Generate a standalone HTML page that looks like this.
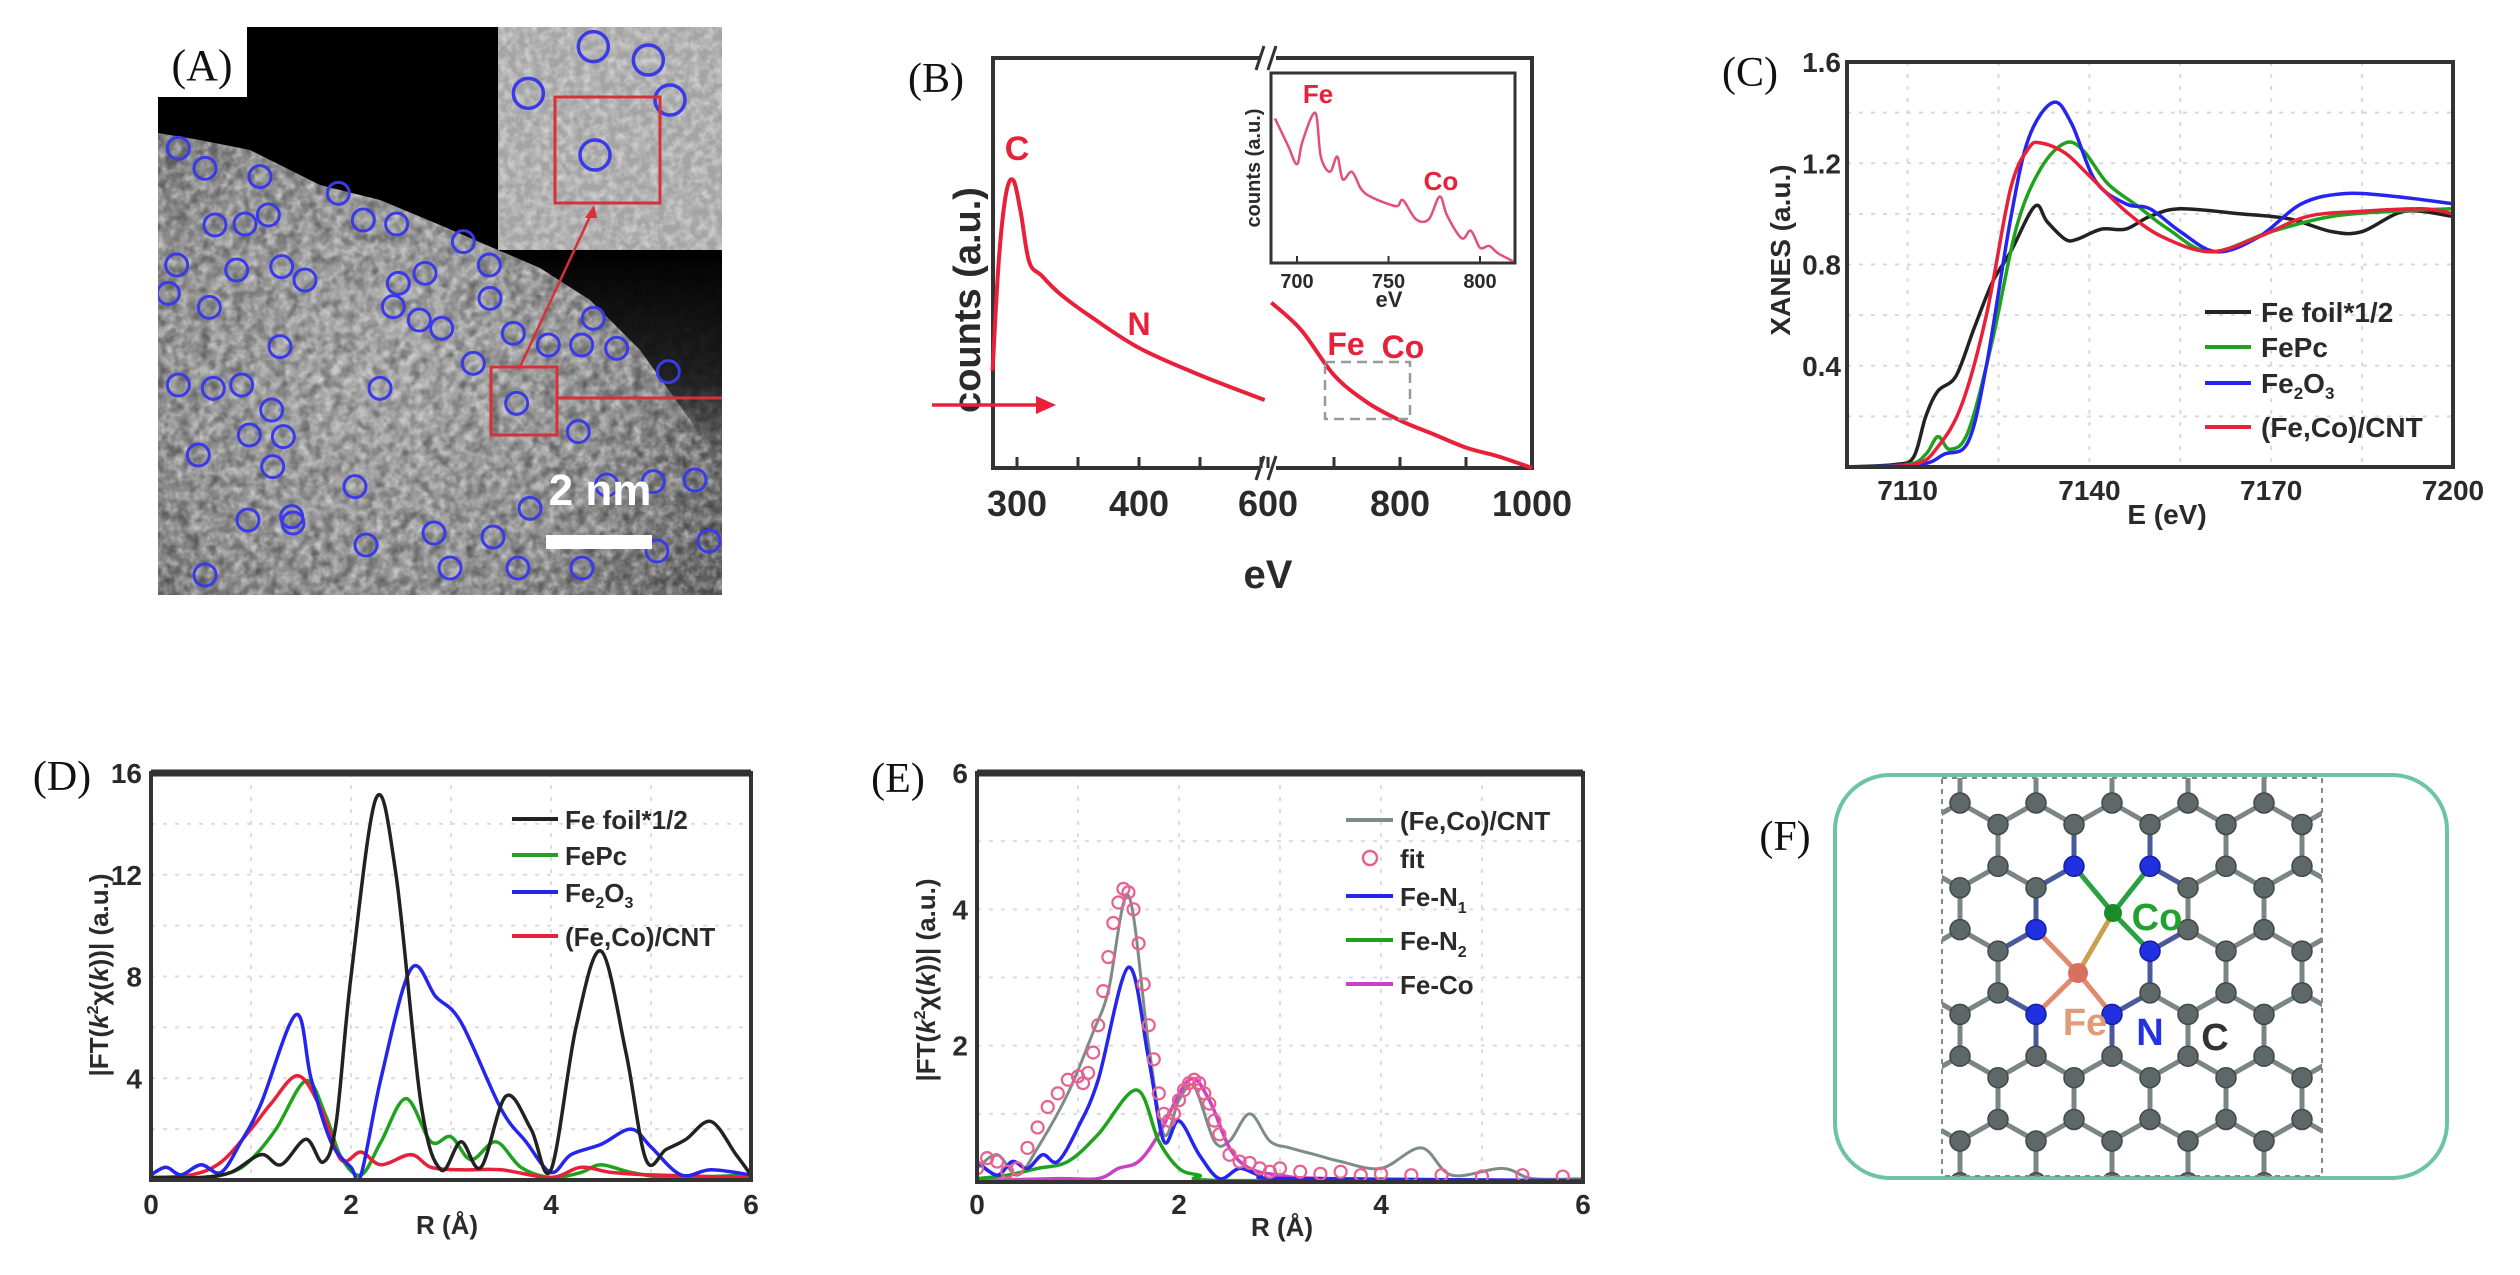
<!DOCTYPE html>
<html><head><meta charset="utf-8"><style>
html,body{margin:0;padding:0;background:#fff;}
svg{display:block;font-family:"Liberation Sans",sans-serif;}
.tk{font-weight:bold;fill:#2a2a2a;}
.pl{font-family:"Liberation Serif",serif;fill:#111;}
</style></head><body>
<svg id="fig" width="2520" height="1275" viewBox="0 0 2520 1275" xmlns="http://www.w3.org/2000/svg">
<defs>
<filter id="noise" x="0" y="0" width="100%" height="100%">
<feTurbulence type="fractalNoise" baseFrequency="0.12" numOctaves="3" seed="4"/>
<feColorMatrix type="matrix" values="0 0 0 0 1  0 0 0 0 1  0 0 0 0 1  1.6 0 0 0 -0.55"/>
</filter>
<filter id="noise2" x="0" y="0" width="100%" height="100%">
<feTurbulence type="fractalNoise" baseFrequency="0.09" numOctaves="2" seed="9"/>
<feColorMatrix type="matrix" values="0 0 0 0 0  0 0 0 0 0  0 0 0 0 0  1.4 0 0 0 -0.55"/>
</filter>
<radialGradient id="tembg" cx="0.4" cy="0.6" r="0.7">
<stop offset="0" stop-color="#ababab"/><stop offset="0.6" stop-color="#8e8e8e"/><stop offset="1" stop-color="#5a5a5a"/>
</radialGradient>
<linearGradient id="darkfade" x1="0" y1="0" x2="0" y2="1">
<stop offset="0" stop-color="#000" stop-opacity="1"/><stop offset="0.6" stop-color="#111" stop-opacity="0.85"/><stop offset="1" stop-color="#333" stop-opacity="0"/>
</linearGradient>
<clipPath id="clipA"><rect x="158" y="27" width="564" height="568"/></clipPath>
<clipPath id="clipC"><rect x="1847" y="62" width="606" height="405"/></clipPath>
<clipPath id="clipD"><rect x="151" y="773" width="600" height="407"/></clipPath>
<clipPath id="clipE"><rect x="977" y="773" width="606" height="409"/></clipPath>
<clipPath id="clipF"><rect x="1942" y="778" width="380" height="398"/></clipPath>
</defs>

<!-- ===== Panel A ===== -->
<g id="panelA" clip-path="url(#clipA)">
<rect x="158" y="27" width="564" height="568" fill="url(#tembg)"/>
<rect x="158" y="27" width="564" height="568" filter="url(#noise)" opacity="0.6"/>
<rect x="158" y="27" width="564" height="568" filter="url(#noise2)" opacity="0.6"/>
<polygon points="158,27 498,27 498,250 440,225 380,200 320,185 250,150 200,140 158,133" fill="#000"/>
<polygon points="498,250 722,250 722,470 690,420 640,350 590,300 540,268" fill="url(#darkfade)"/>
<rect x="498" y="27" width="224" height="223" fill="#a4a4a4"/>
<rect x="498" y="27" width="224" height="223" filter="url(#noise)" opacity="0.6"/>
<g id="temCircles"></g>
<rect x="491" y="367" width="66" height="68" fill="none" stroke="#d8303a" stroke-width="3"/>
<rect x="555" y="97" width="105" height="106" fill="none" stroke="#d8303a" stroke-width="3"/>
<line x1="557" y1="398" x2="722" y2="398" stroke="#d8303a" stroke-width="3"/>
<line x1="520" y1="367" x2="592" y2="212" stroke="#d8303a" stroke-width="2.5"/>
<polygon points="594,205 585,218 597,218" fill="#d8303a"/>
<rect x="546" y="535" width="106" height="14" fill="#fff"/>
<text x="600" y="505" font-size="44" font-weight="bold" fill="#fff" text-anchor="middle">2 nm</text>
<rect x="158" y="27" width="89" height="70" fill="#fff"/>
<text class="pl" x="202" y="80" font-size="44" text-anchor="middle">(A)</text>
</g>

<!-- ===== Panel B ===== -->
<g id="panelB">
<text class="pl" x="936" y="92" font-size="42" text-anchor="middle">(B)</text>
<rect x="993" y="58" width="539" height="410" fill="none" stroke="#333" stroke-width="4"/>
<rect x="1260" y="50" width="16" height="16" fill="#fff"/>
<rect x="1260" y="460" width="16" height="16" fill="#fff"/>
<path d="M1256,70 L1264,46 M1268,70 L1276,46 M1256,480 L1264,456 M1268,480 L1276,456" stroke="#333" stroke-width="3"/>
<g id="bTicks"></g>
<text class="tk" x="1268" y="588" font-size="40" text-anchor="middle">eV</text>
<text class="tk" transform="translate(980,300) rotate(-90)" font-size="38" text-anchor="middle">counts (a.u.)</text>
<g id="bCurve"></g>
<text x="1017" y="160" font-size="34" font-weight="bold" fill="#e8203a" text-anchor="middle">C</text>
<text x="1139" y="335" font-size="32" font-weight="bold" fill="#e8203a" text-anchor="middle">N</text>
<text x="1346" y="355" font-size="32" font-weight="bold" fill="#e8203a" text-anchor="middle">Fe</text>
<text x="1403" y="358" font-size="32" font-weight="bold" fill="#e8203a" text-anchor="middle">Co</text>
<rect x="1325" y="362" width="85" height="57" fill="none" stroke="#999" stroke-width="2.5" stroke-dasharray="10,6"/>
<line x1="932" y1="405" x2="1040" y2="405" stroke="#e8203a" stroke-width="3.5"/>
<polygon points="1056,405 1036,396 1036,414" fill="#e8203a"/>
<rect x="1271" y="73" width="244" height="190" fill="#fff" stroke="#333" stroke-width="3"/>
<g id="bInset"></g>
<text class="tk" x="1389" y="307" font-size="22" text-anchor="middle">eV</text>
<text class="tk" transform="translate(1260,168) rotate(-90)" font-size="20" text-anchor="middle">counts (a.u.)</text>
<text x="1318" y="103" font-size="26" font-weight="bold" fill="#e8203a" text-anchor="middle">Fe</text>
<text x="1441" y="190" font-size="26" font-weight="bold" fill="#e8203a" text-anchor="middle">Co</text>
</g>

<!-- ===== Panel C ===== -->
<g id="panelC">
<text class="pl" x="1750" y="86" font-size="42" text-anchor="middle">(C)</text>
<g id="cGrid"></g>
<g id="cCurves" clip-path="url(#clipC)"></g>
<rect x="1847" y="62" width="606" height="405" fill="none" stroke="#333" stroke-width="4"/>
<g id="cTicks"></g>
<text class="tk" transform="translate(1790,250) rotate(-90)" font-size="28" text-anchor="middle">XANES (a.u.)</text>
<text class="tk" x="2167" y="524" font-size="28" text-anchor="middle">E (eV)</text>
<g id="cLegend"></g>
</g>

<!-- ===== Panel D ===== -->
<g id="panelD">
<text class="pl" x="62" y="790" font-size="42" text-anchor="middle">(D)</text>
<g id="dGrid"></g>
<g id="dCurves" clip-path="url(#clipD)"></g>
<rect x="151" y="773" width="600" height="407" fill="none" stroke="#333" stroke-width="4"/>
<line x1="151" y1="773" x2="751" y2="773" stroke="#333" stroke-width="7"/>
<g id="dTicks"></g>
<text class="tk" transform="translate(108,975) rotate(-90)" font-size="26" text-anchor="middle">|FT(<tspan font-style="italic">k</tspan><tspan font-size="16" dy="-10">2</tspan><tspan dy="10">χ(</tspan><tspan font-style="italic">k</tspan>))| (a.u.)</text>
<text class="tk" x="447" y="1234" font-size="26" text-anchor="middle">R (Å)</text>
<g id="dLegend"></g>
</g>

<!-- ===== Panel E ===== -->
<g id="panelE">
<text class="pl" x="898" y="792" font-size="42" text-anchor="middle">(E)</text>
<g id="eGrid"></g>
<g id="eCurves" clip-path="url(#clipE)"></g>
<rect x="977" y="773" width="606" height="409" fill="none" stroke="#333" stroke-width="4"/>
<line x1="977" y1="773" x2="1583" y2="773" stroke="#333" stroke-width="7"/>
<g id="eTicks"></g>
<text class="tk" transform="translate(935,980) rotate(-90)" font-size="26" text-anchor="middle">|FT(<tspan font-style="italic">k</tspan><tspan font-size="16" dy="-10">2</tspan><tspan dy="10">χ(</tspan><tspan font-style="italic">k</tspan>))| (a.u.)</text>
<text class="tk" x="1282" y="1236" font-size="26" text-anchor="middle">R (Å)</text>
<g id="eLegend"></g>
</g>

<!-- ===== Panel F ===== -->
<g id="panelF">
<text class="pl" x="1785" y="850" font-size="42" text-anchor="middle">(F)</text>
<rect x="1835" y="775" width="612" height="403" rx="55" fill="none" stroke="#6cc3a8" stroke-width="4"/>
<g id="lattice" clip-path="url(#clipF)"></g>
<rect x="1942" y="778" width="380" height="398" fill="none" stroke="#888" stroke-width="2" stroke-dasharray="5,5"/>
<text x="2157" y="930" font-size="38" font-weight="bold" fill="#22a030" text-anchor="middle">Co</text>
<text x="2085" y="1035" font-size="38" font-weight="bold" fill="#e39a78" text-anchor="middle">Fe</text>
<text x="2150" y="1045" font-size="38" font-weight="bold" fill="#2233dd" text-anchor="middle">N</text>
<text x="2215" y="1050" font-size="38" font-weight="bold" fill="#333" text-anchor="middle">C</text>
</g>
</svg>

<script>
// ---------- data: panel B (EELS) ----------
var bLeftE = [280, 285, 291, 297, 303, 310, 320, 335, 360, 400, 450, 503];
var bLeftI = [0.31, 0.55, 0.70, 0.73, 0.66, 0.55, 0.52, 0.48, 0.43, 0.36, 0.30, 0.245];
var bRightE = [605, 650, 700, 750, 800, 850, 900, 950, 1000];
var bRightI = [0.46, 0.40, 0.30, 0.24, 0.20, 0.17, 0.14, 0.12, 0.095];
var bLeftTicks = [300, 350, 400, 450, 500];
var bLeftTickLabels = ["300", "", "400", "", ""];
var bRightTicks = [600, 700, 800, 900, 1000];
var bRightTickLabels = ["600", "", "800", "", "1000"];
var bInsetE = [688, 695, 700, 703, 710, 713, 718, 722, 725, 730, 735, 740, 750, 755, 758, 765, 772, 778, 782, 790, 795, 800, 805, 810, 818];
var bInsetI = [0.76, 0.62, 0.52, 0.64, 0.79, 0.56, 0.48, 0.56, 0.44, 0.48, 0.39, 0.35, 0.31, 0.30, 0.33, 0.23, 0.23, 0.35, 0.25, 0.13, 0.17, 0.08, 0.09, 0.05, 0.01];
var bInsetTicks = [700, 750, 800];
// ---------- data: panel C (XANES) ----------
var cTicksX = [7110, 7140, 7170, 7200];
var cTicksY = [0.4, 0.8, 1.2, 1.6];
var cFoilE = [7100, 7108, 7111, 7113, 7115, 7118, 7121, 7124, 7127, 7131, 7133, 7136, 7138, 7142, 7146, 7150, 7155, 7165, 7173, 7180, 7185, 7192, 7200];
var cFoilY = [0, 0.01, 0.04, 0.2, 0.3, 0.36, 0.55, 0.73, 0.85, 1.03, 0.97, 0.90, 0.90, 0.94, 0.94, 0.99, 1.02, 1.00, 0.98, 0.93, 0.93, 1.01, 0.99];
var cFePcE = [7100, 7110, 7113, 7115, 7117, 7120, 7124, 7128, 7132, 7136, 7139, 7143, 7148, 7153, 7160, 7170, 7180, 7190, 7200];
var cFePcY = [0, 0.01, 0.05, 0.12, 0.07, 0.14, 0.5, 0.95, 1.18, 1.28, 1.25, 1.12, 1.03, 0.94, 0.85, 0.93, 0.99, 1.01, 1.02];
var cFe2O3E = [7100, 7112, 7116, 7120, 7123, 7127, 7130, 7134, 7137, 7141, 7146, 7150, 7155, 7161, 7168, 7175, 7182, 7190, 7200];
var cFe2O3Y = [0, 0.01, 0.05, 0.1, 0.4, 0.98, 1.3, 1.44, 1.36, 1.13, 1.04, 1.02, 0.93, 0.85, 0.91, 1.04, 1.08, 1.07, 1.04];
var cCntE = [7100, 7111, 7115, 7119, 7123, 7127, 7130, 7132, 7136, 7140, 7146, 7152, 7160, 7168, 7176, 7185, 7195, 7200];
var cCntY = [0, 0.01, 0.08, 0.25, 0.6, 1.1, 1.26, 1.28, 1.24, 1.15, 1.01, 0.91, 0.85, 0.91, 0.99, 1.01, 1.02, 1.00];
// ---------- data: panel D ----------
var dTicksX = [0, 2, 4, 6];
var dTicksY = [4, 8, 12, 16];
var dFoilR = [0, 0.5, 0.8, 1.1, 1.3, 1.55, 1.72, 1.85, 2.0, 2.25, 2.45, 2.7, 2.9, 3.1, 3.3, 3.55, 3.8, 4.0, 4.25, 4.5, 4.75, 4.95, 5.15, 5.35, 5.6, 5.85, 6.0];
var dFoilY = [0.1, 0.1, 0.3, 1.0, 0.6, 1.6, 0.7, 2.2, 8, 15, 12, 3, 0.4, 1.5, 0.5, 3.3, 2.0, 0.4, 6, 9, 5, 0.8, 1.2, 1.6, 2.3, 1.0, 0.2];
var dFePcR = [0, 0.5, 0.8, 1.0, 1.25, 1.55, 1.75, 1.9, 2.1, 2.3, 2.55, 2.8, 3.0, 3.2, 3.45, 3.7, 4.0, 4.3, 4.5, 4.8, 5.2, 6.0];
var dFePcY = [0.1, 0.1, 0.3, 0.8, 2.0, 3.9, 2.5, 0.9, 0.2, 1.5, 3.2, 1.5, 1.7, 0.8, 1.5, 0.5, 0.1, 0.3, 0.6, 0.3, 0.1, 0.2];
var dFe2O3R = [0, 0.15, 0.3, 0.5, 0.7, 0.9, 1.1, 1.45, 1.6, 1.8, 2.0, 2.1, 2.3, 2.6, 2.85, 3.1, 3.5, 3.75, 4.0, 4.2, 4.5, 4.8, 5.0, 5.3, 5.6, 6.0];
var dFe2O3Y = [0.2, 0.5, 0.2, 0.6, 0.3, 1.5, 3.0, 6.5, 4.0, 1.5, 0.5, 0.2, 4.0, 8.3, 7.2, 6.2, 2.8, 1.5, 0.3, 1.0, 1.4, 2.0, 1.3, 0.2, 0.4, 0.2];
var dCntR = [0, 0.4, 0.7, 1.0, 1.2, 1.47, 1.7, 1.9, 2.1, 2.3, 2.6, 2.8, 3.1, 3.5, 4.0, 4.3, 4.6, 5.0, 6.0];
var dCntY = [0.1, 0.2, 0.7, 2.0, 3.0, 4.1, 2.8, 0.8, 1.1, 0.6, 1.0, 0.5, 0.4, 0.4, 0.1, 0.5, 0.3, 0.2, 0.1];
// ---------- data: panel E ----------
var eTicksX = [0, 2, 4, 6];
var eTicksY = [2, 4, 6];
var eCntR = [0, 0.2, 0.4, 0.6, 0.9, 1.15, 1.3, 1.5, 1.7, 1.85, 2.0, 2.15, 2.35, 2.5, 2.7, 2.9, 3.1, 3.35, 3.6, 4.0, 4.4, 4.7, 5.2, 5.5, 6.0];
var eCntY = [0.2, 0.4, 0.1, 0.5, 1.3, 2.2, 2.8, 4.2, 2.0, 0.7, 1.2, 1.4, 0.6, 0.6, 1.0, 0.6, 0.5, 0.4, 0.3, 0.2, 0.5, 0.1, 0.2, 0.05, 0.05];
var eFitR = [0, 0.1, 0.2, 0.3, 0.4, 0.5, 0.6, 0.7, 0.8, 0.9, 1.0, 1.05, 1.1, 1.15, 1.2, 1.25, 1.3, 1.35, 1.4, 1.45, 1.5, 1.55, 1.6, 1.65, 1.7, 1.75, 1.8, 1.85, 1.9, 1.95, 2.0, 2.05, 2.1, 2.15, 2.2, 2.25, 2.3, 2.35, 2.4, 2.5, 2.6, 2.7, 2.8, 2.9, 3.0, 3.2, 3.4, 3.6, 3.8, 4.0, 4.3, 4.6, 5.0, 5.4, 5.8];
var eFitY = [0.2, 0.35, 0.3, 0.15, 0.2, 0.5, 0.8, 1.1, 1.3, 1.5, 1.55, 1.45, 1.6, 1.9, 2.3, 2.8, 3.3, 3.8, 4.1, 4.3, 4.25, 4.0, 3.5, 2.9, 2.3, 1.8, 1.3, 1.0, 0.9, 1.0, 1.2, 1.35, 1.45, 1.5, 1.45, 1.3, 1.15, 0.9, 0.7, 0.4, 0.3, 0.28, 0.2, 0.15, 0.2, 0.15, 0.12, 0.15, 0.1, 0.12, 0.1, 0.1, 0.08, 0.1, 0.08];
var eN1R = [0, 0.2, 0.35, 0.5, 0.65, 0.8, 1.0, 1.2, 1.5, 1.7, 1.85, 2.0, 2.2, 2.4, 2.6, 2.8, 3.1, 6.0];
var eN1Y = [0.3, 0.1, 0.3, 0.2, 0.4, 0.3, 0.8, 1.5, 3.15, 1.8, 0.6, 0.9, 0.4, 0.05, 0.2, 0.1, 0.05, 0.02];
var eN2R = [0, 0.3, 0.6, 0.9, 1.2, 1.58, 1.8, 2.0, 2.2, 2.5, 6.0];
var eN2Y = [0.05, 0.1, 0.2, 0.3, 0.7, 1.35, 0.6, 0.2, 0.1, 0.02, 0.02];
var eCoR = [0, 0.8, 1.2, 1.4, 1.6, 1.8, 2.1, 2.3, 2.5, 2.7, 3.0, 3.5, 6.0];
var eCoY = [0.02, 0.05, 0.05, 0.2, 0.3, 0.7, 1.5, 1.2, 0.5, 0.2, 0.1, 0.05, 0.02];

var NS = 'http://www.w3.org/2000/svg';
function mk(tag, attrs, parent) {
  var e = document.createElementNS(NS, tag);
  for (var k in attrs) e.setAttribute(k, attrs[k]);
  parent.appendChild(e);
  return e;
}
function scale(d0, d1, r0, r1) { return function (v) { return r0 + (v - d0) * (r1 - r0) / (d1 - d0); }; }
function smoothPath(xs, ys) {
  var p = xs.map(function (x, i) { return [x, ys[i]]; });
  var d = 'M' + p[0][0].toFixed(1) + ',' + p[0][1].toFixed(1);
  for (var i = 0; i < p.length - 1; i++) {
    var p0 = p[i - 1] || p[i], p1 = p[i], p2 = p[i + 1], p3 = p[i + 2] || p2;
    var c1x = p1[0] + (p2[0] - p0[0]) / 6, c1y = p1[1] + (p2[1] - p0[1]) / 6;
    var c2x = p2[0] - (p3[0] - p1[0]) / 6, c2y = p2[1] - (p3[1] - p1[1]) / 6;
    d += ' C' + c1x.toFixed(1) + ',' + c1y.toFixed(1) + ' ' + c2x.toFixed(1) + ',' + c2y.toFixed(1) + ' ' + p2[0].toFixed(1) + ',' + p2[1].toFixed(1);
  }
  return d;
}
function curve(parent, xs, ys, sx, sy, color, w, name) {
  var e = mk('path', { d: smoothPath(xs.map(sx), ys.map(sy)), fill: 'none', stroke: color, 'stroke-width': w, 'stroke-linejoin': 'round' }, parent);
  
  
  return e;
}
function txt(parent, x, y, s, size, anchor, name) {
  var t = mk('text', { x: x, y: y, 'font-size': size, 'text-anchor': anchor, 'class': 'tk' }, parent);
  t.textContent = s;
  
  
  return t;
}

// ---------- Panel A circles ----------
(function () {
  var g = document.getElementById('temCircles');
  var z9 = [[85,385],[165,445],[330,470],[195,615],[285,612],[355,585],[565,520],[640,600],[740,612],[940,665],[80,735],[260,750],[395,740],[465,780],[55,820],[178,862],[745,790],[825,760],[730,860],[808,900],[875,925],[1018,735],[1020,835],[1090,940],[1330,895],[1195,975],[1295,975],[1400,985],[970,1030],[390,980],[85,1095],[190,1105],[275,1095],[690,1105],[365,1170],[298,1245],[400,1250],[145,1305],[368,1340],[615,1400],[1100,1150],[1285,1235],[1555,1055],[1510,1385],[1370,1395],[1140,1465],[425,1490]];
  var extra = [[293,523],[366,545],[434,533],[493,537],[450,568],[518,568],[582,568],[657,551],[709,541],[695,480],[248,520],[205,575]];
  var inset = [[1135,220],[1330,80],[1495,120],[1335,405],[1560,240]];
  z9.forEach(function (c) {
    var e = mk('circle', { cx: 150 + c[0] / 3, cy: 20 + c[1] / 3, r: 11, fill: 'none', stroke: '#3a3ae8', 'stroke-width': 3 }, g);
    
    
  });
  extra.forEach(function (c) {
    var e = mk('circle', { cx: c[0], cy: c[1], r: 11, fill: 'none', stroke: '#3a3ae8', 'stroke-width': 3 }, g);
    
    
  });
  inset.forEach(function (c) {
    var e = mk('circle', { cx: 150 + c[0] / 3, cy: 20 + c[1] / 3, r: 15, fill: 'none', stroke: '#3a3ae8', 'stroke-width': 3.5 }, g);
    
    
  });
})();

// ---------- Panel B ----------
(function () {
  var sxL = scale(300, 400, 1017, 1139);
  var sxR = scale(600, 1000, 1268, 1532);
  var sy = scale(0, 1, 511, 58);
  var g = document.getElementById('bCurve');
  curve(g, bLeftE, bLeftI, sxL, sy, '#e8203a', 4, 'eels-curve-low-energy');
  curve(g, bRightE, bRightI, sxR, sy, '#e8203a', 4, 'eels-curve-high-energy');
  var t = document.getElementById('bTicks');
  bLeftTicks.forEach(function (v, i) {
    var l = mk('line', { x1: sxL(v), x2: sxL(v), y1: 468, y2: 457, stroke: '#333', 'stroke-width': 3 }, t);
    
    
    if (bLeftTickLabels[i]) txt(t, sxL(v), 516, bLeftTickLabels[i], 36, 'middle', 'x-tick-label');
  });
  bRightTicks.forEach(function (v, i) {
    var l = mk('line', { x1: sxR(v), x2: sxR(v), y1: 468, y2: 457, stroke: '#333', 'stroke-width': 3 }, t);
    
    
    if (bRightTickLabels[i]) txt(t, sxR(v), 516, bRightTickLabels[i], 36, 'middle', 'x-tick-label');
  });
  var sxi = scale(700, 800, 1297, 1480);
  var syi = scale(0, 1, 263, 73);
  var gi = document.getElementById('bInset');
  curve(gi, bInsetE, bInsetI, sxi, syi, '#e2507a', 2.5, 'inset-curve');
  bInsetTicks.forEach(function (v) {
    var l = mk('line', { x1: sxi(v), x2: sxi(v), y1: 263, y2: 256, stroke: '#333', 'stroke-width': 2 }, gi);
    
    
    txt(gi, sxi(v), 288, String(v), 20, 'middle', 'inset-x-tick-label');
  });
})();

// ---------- Panel C ----------
(function () {
  var sx = scale(7100, 7200, 1847, 2453);
  var sy = scale(0, 1.6, 467, 62);
  var grid = document.getElementById('cGrid');
  [7110, 7125, 7140, 7155, 7170, 7185].forEach(function (v) {
    var l = mk('line', { x1: sx(v), x2: sx(v), y1: 62, y2: 467, stroke: '#d8d8d8', 'stroke-width': 2, 'stroke-dasharray': '4,8' }, grid);
    
    
  });
  [0.2, 0.4, 0.6, 0.8, 1.0, 1.2, 1.4].forEach(function (v) {
    var l = mk('line', { x1: 1847, x2: 2453, y1: sy(v), y2: sy(v), stroke: '#d8d8d8', 'stroke-width': 2, 'stroke-dasharray': '4,8' }, grid);
    
    
  });
  var g = document.getElementById('cCurves');
  curve(g, cFoilE, cFoilY, sx, sy, '#222', 3.5, 'series-fe-foil');
  curve(g, cFePcE, cFePcY, sx, sy, '#1fa31f', 3.5, 'series-fepc');
  curve(g, cFe2O3E, cFe2O3Y, sx, sy, '#2525ee', 3.5, 'series-fe2o3');
  curve(g, cCntE, cCntY, sx, sy, '#e8203a', 3.5, 'series-feco-cnt');
  var t = document.getElementById('cTicks');
  cTicksX.forEach(function (v) {
    txt(t, sx(v), 500, String(v), 28, 'middle', 'x-tick-label');
  });
  cTicksY.forEach(function (v) {
    txt(t, 1841, sy(v) + 10, v.toFixed(1), 28, 'end', 'y-tick-label');
  });
  var lg = document.getElementById('cLegend');
  var items = [['Fe foil*1/2', '#222'], ['FePc', '#1fa31f'], ['Fe2O3', '#2525ee'], ['(Fe,Co)/CNT', '#e8203a']];
  var ys = [312, 347, 383, 427];
  items.forEach(function (it, i) {
    var l = mk('line', { x1: 2205, x2: 2251, y1: ys[i], y2: ys[i], stroke: it[1], 'stroke-width': 4 }, lg);
    
    
    var tt = txt(lg, 2261, ys[i] + 10, '', 28, 'start', 'legend-label');
    if (it[0] === 'Fe2O3') {
      tt.innerHTML = 'Fe<tspan font-size="17" dy="6">2</tspan><tspan dy="-6">O</tspan><tspan font-size="17" dy="6">3</tspan>';
    } else tt.textContent = it[0];
  });
})();

// ---------- Panel D ----------
(function () {
  var sx = scale(0, 6, 151, 751);
  var sy = scale(0, 16, 1180, 773);
  var grid = document.getElementById('dGrid');
  [1, 2, 3, 4, 5].forEach(function (v) {
    var l = mk('line', { x1: sx(v), x2: sx(v), y1: 773, y2: 1180, stroke: '#dcdcdc', 'stroke-width': 2, 'stroke-dasharray': '4,8' }, grid);
    
    
  });
  [2, 4, 6, 8, 10, 12, 14].forEach(function (v) {
    var l = mk('line', { x1: 151, x2: 751, y1: sy(v), y2: sy(v), stroke: '#dcdcdc', 'stroke-width': 2, 'stroke-dasharray': '4,8' }, grid);
    
    
  });
  var g = document.getElementById('dCurves');
  curve(g, dFePcR, dFePcY, sx, sy, '#1fa31f', 3.5, 'series-fepc');
  curve(g, dCntR, dCntY, sx, sy, '#e8203a', 3.5, 'series-feco-cnt');
  curve(g, dFe2O3R, dFe2O3Y, sx, sy, '#2525ee', 3.5, 'series-fe2o3');
  curve(g, dFoilR, dFoilY, sx, sy, '#222', 3.5, 'series-fe-foil');
  var t = document.getElementById('dTicks');
  dTicksX.forEach(function (v) { txt(t, sx(v), 1214, String(v), 28, 'middle', 'x-tick-label'); });
  dTicksY.forEach(function (v) { txt(t, 142, sy(v) + 10, String(v), 28, 'end', 'y-tick-label'); });
  var lg = document.getElementById('dLegend');
  var items = [['Fe foil*1/2', '#222'], ['FePc', '#1fa31f'], ['Fe2O3', '#2525ee'], ['(Fe,Co)/CNT', '#e8203a']];
  var ys = [819, 855, 892, 936];
  items.forEach(function (it, i) {
    var l = mk('line', { x1: 512, x2: 558, y1: ys[i], y2: ys[i], stroke: it[1], 'stroke-width': 4 }, lg);
    
    
    var tt = txt(lg, 565, ys[i] + 10, '', 26, 'start', 'legend-label');
    if (it[0] === 'Fe2O3') {
      tt.innerHTML = 'Fe<tspan font-size="16" dy="6">2</tspan><tspan dy="-6">O</tspan><tspan font-size="16" dy="6">3</tspan>';
    } else tt.textContent = it[0];
  });
})();

// ---------- Panel E ----------
(function () {
  var sx = scale(0, 6, 977, 1583);
  var sy = scale(0, 6, 1182, 773);
  var grid = document.getElementById('eGrid');
  [1, 2, 3, 4, 5].forEach(function (v) {
    var l = mk('line', { x1: sx(v), x2: sx(v), y1: 773, y2: 1182, stroke: '#dcdcdc', 'stroke-width': 2, 'stroke-dasharray': '4,8' }, grid);
    
    
  });
  [1, 2, 3, 4, 5].forEach(function (v) {
    var l = mk('line', { x1: 977, x2: 1583, y1: sy(v), y2: sy(v), stroke: '#dcdcdc', 'stroke-width': 2, 'stroke-dasharray': '4,8' }, grid);
    
    
  });
  var g = document.getElementById('eCurves');
  curve(g, eCntR, eCntY, sx, sy, '#7d8c88', 3, 'series-feco-cnt');
  curve(g, eCoR, eCoY, sx, sy, '#cc40c8', 3.5, 'series-fe-co');
  curve(g, eN2R, eN2Y, sx, sy, '#1fa31f', 3.5, 'series-fe-n2');
  curve(g, eN1R, eN1Y, sx, sy, '#2525ee', 3.5, 'series-fe-n1');
  eFitR.forEach(function (r, i) {
    var c = mk('circle', { cx: sx(r), cy: sy(eFitY[i]), r: 6, fill: 'none', stroke: '#e86090', 'stroke-width': 2.2 }, g);
    
    
  });
  var t = document.getElementById('eTicks');
  eTicksX.forEach(function (v) { txt(t, sx(v), 1214, String(v), 28, 'middle', 'x-tick-label'); });
  eTicksY.forEach(function (v) { txt(t, 968, sy(v) + 10, String(v), 28, 'end', 'y-tick-label'); });
  var lg = document.getElementById('eLegend');
  var items = [['(Fe,Co)/CNT', '#7d8c88', ''], ['fit', '#e86090', ''], ['Fe-N', '#2525ee', '1'], ['Fe-N', '#1fa31f', '2'], ['Fe-Co', '#cc40c8', '']];
  var ys = [820, 858, 896, 940, 984];
  items.forEach(function (it, i) {
    if (it[0] === 'fit') {
      var c = mk('circle', { cx: 1370, cy: ys[i], r: 7, fill: 'none', stroke: it[1], 'stroke-width': 2.5 }, lg);
      
      
    } else {
      var l = mk('line', { x1: 1346, x2: 1393, y1: ys[i], y2: ys[i], stroke: it[1], 'stroke-width': 4 }, lg);
      
      
    }
    var tt = txt(lg, 1400, ys[i] + 10, '', 26, 'start', 'legend-label');
    if (it[2]) tt.innerHTML = it[0] + '<tspan font-size="16" dy="7">' + it[2] + '</tspan>';
    else tt.textContent = it[0];
  });
})();

// ---------- Panel F lattice ----------
(function () {
  var g = document.getElementById('lattice');
  var x0 = 1960, dx = 38, y0 = 803, rowH = 63.3, dz = 21.5;
  function pos(i, k) { var up = (i + k) % 2 === 0; return [x0 + i * dx, y0 + k * rowH + (up ? 0 : dz), up]; }
  var removed = { '4,1': 1, '4,2': 1, '3,2': 1, '3,3': 1 };
  var nitro = { '3,1': 1, '5,1': 1, '2,2': 1, '5,2': 1, '2,3': 1, '4,3': 1 };
  var bonds = [], atoms = [];
  for (var k = -1; k <= 7; k++) {
    for (var i = -1; i <= 10; i++) {
      var key = i + ',' + k;
      if (removed[key]) continue;
      var p = pos(i, k);
      atoms.push([p[0], p[1], nitro[key] ? 'N' : 'C']);
      var nb = [[i + 1, k]];
      if (!p[2]) nb.push([i, k + 1]);
      nb.forEach(function (n) {
        if (removed[n[0] + ',' + n[1]]) return;
        var q = pos(n[0], n[1]);
        var col = (nitro[key] || nitro[n[0] + ',' + n[1]]) ? '#4a5a9a' : '#7a8585';
        bonds.push([p[0], p[1], q[0], q[1], col]);
      });
    }
  }
  bonds.forEach(function (b) {
    var l = mk('line', { x1: b[0], y1: b[1], x2: b[2], y2: b[3], stroke: b[4], 'stroke-width': 5 }, g);
    
    
  });
  var co = [2113, 913], fe = [2078, 973];
  var coN = [pos(3, 1), pos(5, 1), pos(5, 2)], feN = [pos(2, 2), pos(2, 3), pos(4, 3)];
  coN.forEach(function (n) {
    var l = mk('line', { x1: co[0], y1: co[1], x2: n[0], y2: n[1], stroke: '#2aa040', 'stroke-width': 5 }, g);
    
    
  });
  feN.forEach(function (n) {
    var l = mk('line', { x1: fe[0], y1: fe[1], x2: n[0], y2: n[1], stroke: '#e08a70', 'stroke-width': 5 }, g);
    
    
  });
  var fc = mk('line', { x1: fe[0], y1: fe[1], x2: co[0], y2: co[1], stroke: '#c8a050', 'stroke-width': 5 }, g);
  
  
  atoms.forEach(function (a) {
    var c = mk('circle', { cx: a[0], cy: a[1], r: 10, fill: a[2] === 'N' ? '#2030e0' : '#5e6868', stroke: a[2] === 'N' ? '#1520a0' : '#404848', 'stroke-width': 1.5 }, g);
    
    
  });
  var cc = mk('circle', { cx: co[0], cy: co[1], r: 9, fill: '#1c8a2a' }, g);
  
  
  var fa = mk('circle', { cx: fe[0], cy: fe[1], r: 10, fill: '#d87060' }, g);
  
  
})();
</script>
</body></html>
